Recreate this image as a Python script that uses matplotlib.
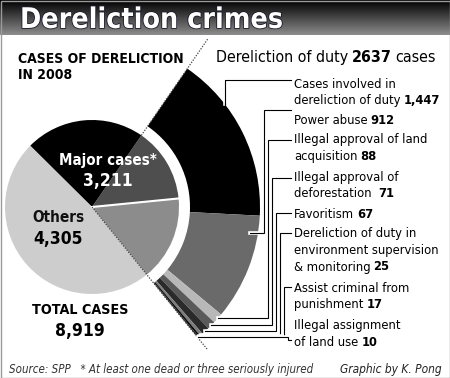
import numpy as np
import matplotlib.pyplot as plt
import matplotlib.patheffects as pe
from matplotlib import font_manager
from matplotlib.patches import Rectangle

W, H = 450, 378

total_cases = "8,919"
major_cases = "3,211"
other_cases = "4,305"
duty_total = "2637"

# small pie, anticlockwise from the lower dotted line:
# dereliction only, dereliction + major, major only, others
pie_values = [1403, 1234, 1977, 4305]
pie_colors = ["#8c8c8c", "#4e4e4e", "#000000", "#cdcdcd"]

duty_values = [1447, 912, 88, 71, 67, 25, 17, 10]
duty_colors = ["#000000", "#6a6a6a", "#b8b8b8", "#5a5a5a", "#2a2a2a",
               "#7c7c7c", "#0a0a0a", "#1a1a1a"]
duty_labels = [
    ["Cases involved in", "dereliction of duty"],
    ["Power abuse"],
    ["Illegal approval of land", "acquisition"],
    ["Illegal approval of", "deforestation "],
    ["Favoritism"],
    ["Dereliction of duty in", "environment supervision", "& monitoring"],
    ["Assist criminal from", "punishment"],
    ["Illegal assignment", "of land use"],
]

# ---- font ----
fams = {f.name for f in font_manager.fontManager.ttflist}
if "DejaVu Sans Condensed" in fams:
    FONT, STRETCH = "DejaVu Sans Condensed", "normal"
elif "Liberation Sans Narrow" in fams:
    FONT, STRETCH = "Liberation Sans Narrow", "normal"
else:
    FONT, STRETCH = "DejaVu Sans", "condensed"
plt.rcParams["font.family"] = [FONT, "DejaVu Sans"]
plt.rcParams["font.stretch"] = STRETCH

fig = plt.figure(figsize=(W / 100, H / 100), dpi=100)
ax = fig.add_axes([0, 0, 1, 1])
renderer = fig.canvas.get_renderer()

# pixel rows from the top -> axis y
def Y(v):
    return H - v

cx, cy = 92, Y(207)
r_pie, r_out, r_in = 87, 168, 98
start = -51

# small pie
ax.pie(pie_values, colors=pie_colors, startangle=start, center=(cx, cy),
       radius=r_pie, wedgeprops=dict(linewidth=0))
tot = sum(pie_values)
cut = start + pie_values[0] / tot * 360
top = start + (pie_values[0] + pie_values[1]) / tot * 360
ax.plot([cx, cx + r_pie * np.cos(np.radians(cut))],
        [cy, cy + r_pie * np.sin(np.radians(cut))], color="white", lw=1.5)

# exploded ring of dereliction of duty
fr = [v / tot for v in duty_values]
ax.pie(fr, colors=duty_colors, startangle=top, counterclock=False,
       normalize=False, center=(cx, cy), radius=r_out,
       wedgeprops=dict(width=r_out - r_in, linewidth=0))

# dotted guide lines
for ang, r0, r1 in [(top, r_pie, 204), (start, 0, 183)]:
    a = np.radians(ang)
    ax.plot([cx + r0 * np.cos(a), cx + r1 * np.cos(a)],
            [cy + r0 * np.sin(a), cy + r1 * np.sin(a)],
            color="#444444", lw=0.9, ls=(0, (1, 1.2)))

# leader lines
halo = [pe.withStroke(linewidth=2.6, foreground="white")]
lx = 291
label_y = [83, 119, 139, 176, 213, 233, 287, 325]
tick_y = [80, 110, 140, 178, 213, 233, 287, 340]
vert_x = [225, 264, 268, 272, 276, 280, 284, 288]

mids = []
acc = top
for f in fr:
    mids.append(acc - f * 180)
    acc -= f * 360

for i in range(len(duty_values)):
    a = np.radians(mids[i])
    if i == 0:
        edge = cy + np.sqrt(r_out ** 2 - (vert_x[0] - cx) ** 2)
        pts = [(lx, Y(tick_y[0])), (vert_x[0], Y(tick_y[0])), (vert_x[0], edge)]
        xs, ys = zip(*pts)
        ax.plot(xs, ys, color="black", lw=0.8, path_effects=halo)
        ax.plot([vert_x[0], vert_x[0]], [edge + 1, edge - 8], color="black", lw=0.8)
        continue
    elif i == 1:
        py = Y(233)
        px = cx + np.sqrt(r_out ** 2 - (py - cy) ** 2) - 8
        pts = [(lx, Y(tick_y[1])), (vert_x[1], Y(tick_y[1])), (vert_x[1], py), (px, py)]
    else:
        px = cx + r_out * np.cos(a)
        py = cy + r_out * np.sin(a)
        pts = [(px, py), (vert_x[i], py), (vert_x[i], Y(tick_y[i])), (lx, Y(tick_y[i]))]
    xs, ys = zip(*pts)
    ax.plot(xs, ys, color="black", lw=0.8, path_effects=halo,
            solid_joinstyle="miter")


def runs(x, y, parts, size, color="black", style="normal"):
    for s, w in parts:
        t = ax.text(x, y, s, fontsize=size, fontweight=w, color=color,
                    fontstyle=style, va="baseline", ha="left")
        x += t.get_window_extent(renderer).width + size * 0.32


# right-hand labels
fs = 9.3
for i, lines in enumerate(duty_labels):
    y0 = label_y[i] + 4.5
    for j, line in enumerate(lines):
        yy = Y(y0 + j * 16.5)
        if j == len(lines) - 1:
            runs(294, yy, [(line, "normal"), (f"{duty_values[i]:,}", "bold")], fs)
        else:
            ax.text(294, yy, line, fontsize=fs, va="baseline")

# headings
runs(216, Y(62), [("Dereliction of duty", "normal"), (duty_total, "bold"),
                  ("cases", "normal")], 11.4)
ax.text(18, Y(63), "CASES OF DERELICTION", fontsize=10, fontweight="bold",
        va="baseline")
ax.text(18, Y(79), "IN 2008", fontsize=10, fontweight="bold", va="baseline")

# pie labels
ax.text(108, Y(160), "Major cases*", fontsize=10.8, fontweight="bold",
        color="white", ha="center", va="center")
ax.text(108, Y(181), major_cases, fontsize=12.5, fontweight="bold",
        color="white", ha="center", va="center")
ax.text(58, Y(218), "Others", fontsize=11, fontweight="bold", ha="center",
        va="center", color="#111111")
ax.text(58, Y(239), other_cases, fontsize=12.5, fontweight="bold",
        ha="center", va="center")
ax.text(80, Y(310), "TOTAL CASES", fontsize=10.3, fontweight="bold",
        ha="center", va="center")
ax.text(80, Y(331), total_cases, fontsize=12.5, fontweight="bold",
        ha="center", va="center")

# footer
ax.text(9, Y(373), "Source: SPP   * At least one dead or three seriously injured",
        fontsize=8.3, fontstyle="italic", color="#333333", va="baseline")
ax.text(442, Y(373), "Graphic by K. Pong", fontsize=8.6, fontstyle="italic",
        color="#222222", va="baseline", ha="right")

# title bar
grad = np.linspace(0.0, 0.55, 64).reshape(-1, 1)
ax.imshow(grad, extent=(0, W, Y(35), H), cmap="gray", vmin=0, vmax=1,
          aspect="auto", origin="upper", zorder=0)
ax.text(20, Y(28), "Dereliction crimes", fontsize=20.5, fontweight="bold",
        color="white", va="baseline",
        path_effects=[pe.withStroke(linewidth=1.2, foreground="#1a1a2a")])

ax.add_patch(Rectangle((0.5, 0.5), W - 1, H - 1, fill=False,
                       edgecolor="#9a9a9a", lw=1))

ax.set_xlim(0, W)
ax.set_ylim(0, H)
ax.set_aspect("auto")
ax.axis("off")
fig.savefig("out.png", dpi=100)
